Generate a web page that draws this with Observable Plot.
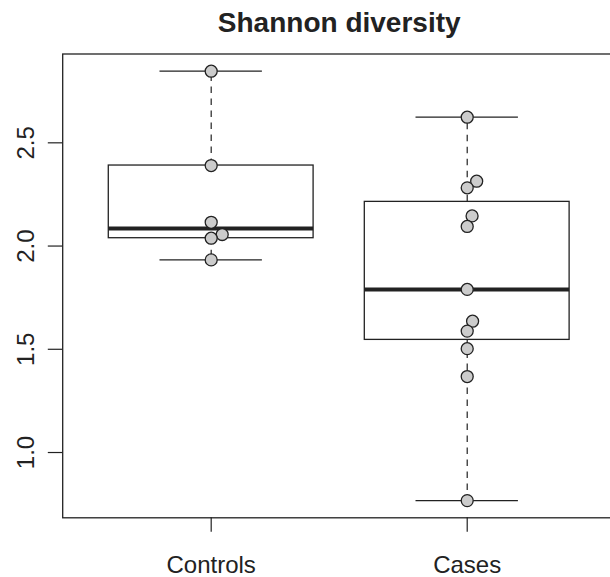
<!DOCTYPE html>
<html>
<head>
<meta charset="utf-8">
<script src="https://cdn.jsdelivr.net/npm/d3@7"></script>
<script src="https://cdn.jsdelivr.net/npm/@observablehq/plot@0.6"></script>
<style>
  html, body { margin: 0; padding: 0; background: #fff; }
  #chart svg { display: block; overflow: hidden; }
</style>
</head>
<body>
<div id="chart"></div>
<script>
// ---- data ----
const title = "Shannon diversity";
const categories = ["Controls", "Cases"];
const controlsValues = [2.847, 2.390, 2.115, 2.056, 2.038, 1.933];
const controlsJitter = [0, 0, 0, 0.043, 0, 0];
const casesValues = [2.624, 2.314, 2.282, 2.146, 2.095, 1.790, 1.636, 1.588, 1.503, 1.368, 0.767];
const casesJitter = [0, 0.037, 0, 0.019, 0, 0, 0.021, 0, 0, 0, 0];
const yTicks = [1.0, 1.5, 2.0, 2.5];

// ---- derived tables ----
const groups = [
  {name: categories[0], pos: 1, values: controlsValues, jitter: controlsJitter},
  {name: categories[1], pos: 2, values: casesValues, jitter: casesJitter}
];

// Tukey five-number summary (as in R's boxplot)
function fivenum(arr) {
  const x = arr.slice().sort((a, b) => a - b);
  const n = x.length;
  const n4 = Math.floor((n + 3) / 2) / 2;
  const d = [1, n4, (n + 1) / 2, n + 1 - n4, n];
  return d.map(v => 0.5 * (x[Math.floor(v) - 1] + x[Math.ceil(v) - 1]));
}

const stats = groups.map(g => {
  const [mn, q1, med, q3, mx] = fivenum(g.values);
  const iqr = q3 - q1;
  const lo = d3.min(g.values.filter(v => v >= q1 - 1.5 * iqr));
  const hi = d3.max(g.values.filter(v => v <= q3 + 1.5 * iqr));
  return {name: g.name, pos: g.pos, lo, q1, med, q3, hi};
});

const points = groups.flatMap(g => g.values.map((v, i) => ({pos: g.pos + g.jitter[i], value: v})));

const allValues = controlsValues.concat(casesValues);
const [ymin, ymax] = d3.extent(allValues);
const pad = 0.04 * (ymax - ymin);

const ink = "#222";
const font = "'Liberation Sans', Arial, Helvetica, sans-serif";

const chart = Plot.plot({
  width: 610,
  height: 577,
  marginLeft: 62.2,
  marginRight: -5.2,
  marginTop: 53.5,
  marginBottom: 59.7,
  style: {fontFamily: font, color: ink, background: "#fff"},
  x: {type: "linear", domain: [0.42, 2.58], axis: null},
  y: {domain: [ymin - pad, ymax + pad], axis: null},
  marks: [
    // whiskers (dashed)
    Plot.ruleX(stats, {x: "pos", y1: "q3", y2: "hi", stroke: ink, strokeWidth: 1.2, strokeDasharray: "6.5,5.5"}),
    Plot.ruleX(stats, {x: "pos", y1: "q1", y2: "lo", stroke: ink, strokeWidth: 1.2, strokeDasharray: "6.5,5.5"}),
    // staples
    Plot.ruleY(stats, {y: "hi", x1: d => d.pos - 0.2, x2: d => d.pos + 0.2, stroke: ink, strokeWidth: 1.2}),
    Plot.ruleY(stats, {y: "lo", x1: d => d.pos - 0.2, x2: d => d.pos + 0.2, stroke: ink, strokeWidth: 1.2}),
    // boxes
    Plot.rect(stats, {x1: d => d.pos - 0.4, x2: d => d.pos + 0.4, y1: "q1", y2: "q3", fill: "none", stroke: ink, strokeWidth: 1.3}),
    // medians
    Plot.ruleY(stats, {y: "med", x1: d => d.pos - 0.4, x2: d => d.pos + 0.4, stroke: ink, strokeWidth: 4}),
    // points
    Plot.dot(points, {x: "pos", y: "value", r: 6, fill: "#cccccc", stroke: ink, strokeWidth: 1.3}),
    // frame
    Plot.frame({stroke: ink, strokeWidth: 1.3}),
    // y axis ticks + rotated labels
    Plot.axisY(yTicks, {anchor: "left", tickSize: 14.4, tickFormat: () => "", label: null, stroke: ink, strokeWidth: 1.2}),
    Plot.text(yTicks, {y: d => d, text: d => d3.format(".1f")(d), frameAnchor: "left", dx: -28.8,
      rotate: -90, textAnchor: "middle", lineAnchor: "bottom", fontSize: 24, fill: ink}),
    // x axis ticks + labels
    Plot.axisX([1, 2], {anchor: "bottom", tickSize: 14.4, tickFormat: () => "", label: null, stroke: ink, strokeWidth: 1.2}),
    Plot.text(stats, {x: "pos", text: "name", frameAnchor: "bottom", dy: 55, lineAnchor: "bottom",
      textAnchor: "middle", fontSize: 24, fill: ink}),
    // title
    Plot.text([title], {text: d => d, frameAnchor: "top", dy: -22.5, lineAnchor: "bottom",
      fontSize: 28, fontWeight: "bold", fill: ink})
  ]
});

document.getElementById("chart").appendChild(chart);
</script>
</body>
</html>
